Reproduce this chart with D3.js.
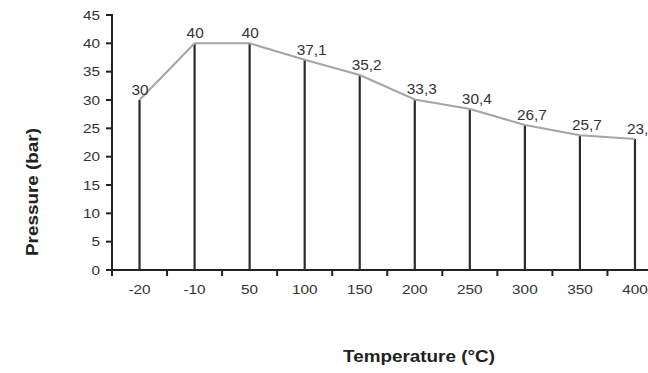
<!DOCTYPE html>
<html>
<head>
  <meta charset="utf-8"/>
  <style>
    body { margin: 0; background: #fff; }
    svg { display: block; font-family: "Liberation Sans", Arial, sans-serif; }
  </style>
</head>
<body>
  <div id="chart"></div>
  <script src="https://d3js.org/d3.v7.min.js"></script>
  <script>
    // temperatures on the x axis, pressure, labels as printed
    let temps = ['-20', '-10', '50', '100', '150', '200', '250', '300', '350', '400'];
    let pressure = [30, 40, 40, 37.1, 34.4, 30.1, 28.4, 25.6, 23.8, 23.1];
    let labels = ['30', '40', '40', '37,1', '35,2', '33,3', '30,4', '26,7', '25,7', '23,2'];
    let yTicks = [0, 5, 10, 15, 20, 25, 30, 35, 40, 45];

    let width = 648,
        height = 373,
        stretch = 1.18;   // the original text looks a bit wide

    let svg = d3.select('#chart')
        .append('svg')
        .attr('width', width)
        .attr('height', height);

    let x = d3.scaleBand()
        .domain(temps)
        .range([112, 662.5]);

    let y = d3.scaleLinear()
        .domain([0, 45])
        .range([270, 15]);

    let cx = d => x(d) + x.bandwidth() / 2;
    let place = (px, py) => 'translate(' + px + ',' + py + ') scale(' + stretch + ',1)';

    // x axis: ticks sit on the band edges
    let edges = temps.map(t => x(t)).concat([x.range()[1]]);
    let xg = svg.append('g');
    xg.append('line')
        .attr('x1', 112).attr('x2', 662.5)
        .attr('y1', y(0)).attr('y2', y(0))
        .attr('stroke', '#222').attr('stroke-width', 2);
    xg.selectAll('.xt')
        .data(edges)
        .enter()
        .append('line')
        .attr('x1', d => d).attr('x2', d => d)
        .attr('y1', y(0)).attr('y2', y(0) + 6)
        .attr('stroke', '#222').attr('stroke-width', 2);
    xg.selectAll('.xl')
        .data(temps)
        .enter()
        .append('text')
        .attr('transform', d => place(cx(d), 294))
        .attr('text-anchor', 'middle')
        .attr('font-size', 13)
        .attr('fill', '#333')
        .text(d => d);

    // y axis
    let yg = svg.append('g');
    yg.append('path')
        .attr('fill', 'none')
        .attr('stroke', '#222').attr('stroke-width', 2)
        .attr('d', 'M106,' + y(45) + 'H112V' + y(0));
    yg.selectAll('.yt')
        .data(yTicks)
        .enter()
        .append('line')
        .attr('x1', 106).attr('x2', 112)
        .attr('y1', d => y(d)).attr('y2', d => y(d))
        .attr('stroke', '#222').attr('stroke-width', 2);
    yg.selectAll('.yl')
        .data(yTicks)
        .enter()
        .append('text')
        .attr('transform', d => place(100, y(d) + 4.5))
        .attr('text-anchor', 'end')
        .attr('font-size', 13)
        .attr('fill', '#333')
        .text(d => d);

    // vertical drop lines
    svg.selectAll('.drop')
        .data(temps)
        .enter()
        .append('line')
        .attr('x1', cx).attr('x2', cx)
        .attr('y1', (d, i) => y(pressure[i]))
        .attr('y2', y(0))
        .attr('stroke', '#2b2b2b')
        .attr('stroke-width', 2.2);

    // the pressure line
    let line = d3.line()
        .x((d, i) => cx(temps[i]))
        .y(d => y(d));
    svg.append('path')
        .datum(pressure)
        .attr('fill', 'none')
        .attr('stroke', '#a5a5a5')
        .attr('stroke-width', 2)
        .attr('d', line);

    // value labels
    svg.selectAll('.lab')
        .data(labels)
        .enter()
        .append('text')
        .attr('transform', (d, i) => 'translate(' + (cx(temps[i]) - 8) + ',' + (y(pressure[i]) - 5) + ') scale(1.1,1)')
        .attr('font-size', 14)
        .attr('fill', '#333')
        .text(d => d);

    // axis titles
    svg.append('text')
        .attr('transform', 'translate(38,192) rotate(-90) scale(' + stretch + ',1)')
        .attr('text-anchor', 'middle')
        .attr('font-size', 16)
        .attr('font-weight', 'bold')
        .attr('fill', '#222')
        .text('Pressure (bar)');

    svg.append('text')
        .attr('transform', place(419, 362))
        .attr('text-anchor', 'middle')
        .attr('font-size', 16)
        .attr('font-weight', 'bold')
        .attr('fill', '#222')
        .text('Temperature (°C)');
  </script>
</body>
</html>
